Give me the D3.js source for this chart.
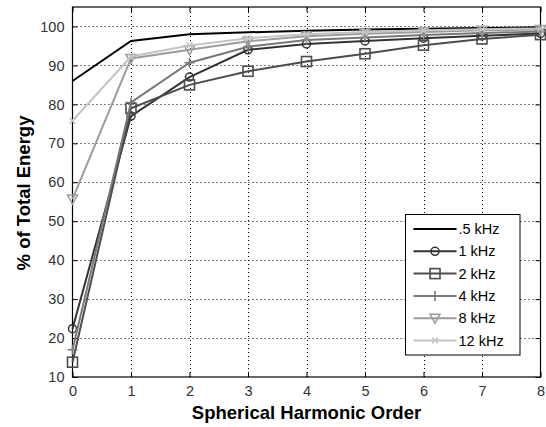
<!DOCTYPE html>
<html>
<head>
<meta charset="utf-8">
<script src="https://cdn.jsdelivr.net/npm/d3@7"></script>
<style>
  html, body { margin: 0; padding: 0; background: #fff; }
  svg { display: block; font-family: "Liberation Sans", Arial, sans-serif; }
</style>
</head>
<body>
<svg id="chart" width="546" height="427"></svg>
<script>
// Harmonic orders along the x axis
const orders = [0, 1, 2, 3, 4, 5, 6, 7, 8];
const xTicks = [0, 1, 2, 3, 4, 5, 6, 7, 8];
const yTicks = [10, 20, 30, 40, 50, 60, 70, 80, 90, 100];

// Series names and cumulative energy (%) per order
const seriesNames = [".5 kHz", "1 kHz", "2 kHz", "4 kHz", "8 kHz", "12 kHz"];
const e500  = [86.0, 96.3, 98.0, 98.5, 98.9, 99.2, 99.4, 99.6, 99.8];
const e1k   = [22.4, 77.0, 87.0, 94.0, 95.5, 96.3, 97.0, 97.6, 98.2];
const e2k   = [13.8, 79.0, 85.0, 88.5, 91.0, 93.0, 95.2, 96.8, 97.9];
const e4k   = [17.0, 80.5, 90.7, 94.8, 96.5, 97.2, 97.8, 98.3, 98.7];
const e8k   = [55.7, 91.8, 94.0, 96.2, 97.5, 98.1, 98.6, 99.0, 99.2];
const e12k  = [75.8, 92.3, 95.1, 97.0, 98.0, 98.6, 99.0, 99.3, 99.5];
const seriesValues = [e500, e1k, e2k, e4k, e8k, e12k];
const seriesColors = ["#000000", "#333333", "#4d4d4d", "#787878", "#9c9c9c", "#c4c4c4"];
const seriesMarkers = ["none", "circle", "square", "plus", "triangle", "cross"];

const svg = d3.select("#chart");
const margin = { left: 72.5, right: 5.5, top: 7, bottom: 50 };
const W = 546, H = 427;

const x = d3.scaleLinear().domain([0, 8]).range([margin.left, W - margin.right]);
const y = d3.scaleLinear().domain([10, 105]).range([H - margin.bottom, margin.top]);

const x0 = x.range()[0], x1 = x.range()[1];
const y0 = y.range()[0], y1 = y.range()[1];

// Dotted grid
const grid = svg.append("g").attr("stroke", "#000").attr("stroke-width", 1)
  .attr("stroke-dasharray", "1,3");
xTicks.slice(1, -1).forEach(t => {
  grid.append("line").attr("x1", Math.round(x(t)) + 0.5).attr("x2", Math.round(x(t)) + 0.5)
    .attr("y1", y0).attr("y2", y1);
});
yTicks.slice(1).forEach(t => {
  grid.append("line").attr("y1", Math.round(y(t)) + 0.5).attr("y2", Math.round(y(t)) + 0.5)
    .attr("x1", x0).attr("x2", x1);
});

// Axes with inward ticks
const xAxis = d3.axisBottom(x).tickValues(xTicks).tickSizeInner(-5).tickSizeOuter(0).tickPadding(9);
const yAxis = d3.axisLeft(y).tickValues(yTicks).tickSizeInner(-5).tickSizeOuter(0).tickPadding(8);

const gx = svg.append("g").attr("transform", `translate(0,${y0})`).call(xAxis);
const gy = svg.append("g").attr("transform", `translate(${x0},0)`).call(yAxis);
[gx, gy].forEach(g => {
  g.select(".domain").remove();
  g.selectAll("line").attr("stroke", "#000");
  g.selectAll("text").attr("font-size", 14.5).attr("fill", "#333")
    .attr("font-family", "Liberation Sans, Arial, sans-serif");
});
gx.selectAll("text").attr("dy", "0.71em").attr("y", 9);

// Top and right ticks
const gxt = svg.append("g").attr("transform", `translate(0,${y1})`)
  .call(d3.axisTop(x).tickValues(xTicks).tickSizeInner(-5).tickSizeOuter(0).tickFormat(""));
const gyr = svg.append("g").attr("transform", `translate(${x1},0)`)
  .call(d3.axisRight(y).tickValues(yTicks).tickSizeInner(-5).tickSizeOuter(0).tickFormat(""));
[gxt, gyr].forEach(g => { g.select(".domain").remove(); g.selectAll("line").attr("stroke", "#000"); });

// Plot box
svg.append("rect").attr("x", x0).attr("y", y1).attr("width", x1 - x0).attr("height", y0 - y1)
  .attr("fill", "none").attr("stroke", "#000").attr("stroke-width", 1.2);

// Marker drawing
function drawMarker(g, type, cx, cy, color) {
  if (type === "circle") {
    g.append("circle").attr("cx", cx).attr("cy", cy).attr("r", 4)
      .attr("fill", "none").attr("stroke", color).attr("stroke-width", 1.5);
  } else if (type === "square") {
    g.append("rect").attr("x", cx - 5).attr("y", cy - 5).attr("width", 10).attr("height", 10)
      .attr("fill", "none").attr("stroke", color).attr("stroke-width", 1.6);
  } else if (type === "plus") {
    g.append("path").attr("d", `M${cx - 5},${cy}H${cx + 5}M${cx},${cy - 5}V${cy + 5}`)
      .attr("stroke", color).attr("stroke-width", 1.5);
  } else if (type === "triangle") {
    g.append("path").attr("d", `M${cx - 5},${cy - 4}L${cx + 5},${cy - 4}L${cx},${cy + 5}Z`)
      .attr("fill", "none").attr("stroke", color).attr("stroke-width", 1.5);
  } else if (type === "cross") {
    g.append("path").attr("d", `M${cx - 3},${cy - 3}L${cx + 3},${cy + 3}M${cx - 3},${cy + 3}L${cx + 3},${cy - 3}`)
      .attr("stroke", color).attr("stroke-width", 1.5);
  }
}

// Series lines and markers
const line = d3.line().x((d, i) => x(orders[i])).y(d => y(d));
const plot = svg.append("g");
seriesValues.forEach((vals, s) => {
  const g = plot.append("g");
  g.append("path").attr("d", line(vals)).attr("fill", "none")
    .attr("stroke", seriesColors[s]).attr("stroke-width", 2);
  vals.forEach((v, i) => drawMarker(g, seriesMarkers[s], x(orders[i]), y(v), seriesColors[s]));
});

// Legend
const lg = svg.append("g");
const lx = 405.5, ly = 214.5, lw = 114.5, lh = 140.5;
lg.append("rect").attr("x", lx).attr("y", ly).attr("width", lw).attr("height", lh)
  .attr("fill", "#fff").attr("stroke", "#000").attr("stroke-width", 1);
seriesNames.forEach((name, s) => {
  const cy = ly + 14.5 + s * 22.3;
  lg.append("line").attr("x1", lx + 8).attr("x2", lx + 51).attr("y1", cy).attr("y2", cy)
    .attr("stroke", seriesColors[s]).attr("stroke-width", 2);
  drawMarker(lg, seriesMarkers[s], lx + 29.5, cy, seriesColors[s]);
  lg.append("text").attr("x", lx + 53).attr("y", cy).attr("dy", "0.35em")
    .attr("font-size", 14.5).attr("fill", "#000").text(name);
});

// Axis titles
svg.append("text").attr("x", (x0 + x1) / 2).attr("y", 419).attr("text-anchor", "middle")
  .attr("font-size", 18.5).attr("font-weight", "bold").attr("fill", "#000")
  .text("Spherical Harmonic Order");
svg.append("text").attr("transform", `translate(30,193) rotate(-90)`)
  .attr("text-anchor", "middle").attr("font-size", 18.5).attr("font-weight", "bold").attr("fill", "#000")
  .text("% of Total Energy");
</script>
</body>
</html>
